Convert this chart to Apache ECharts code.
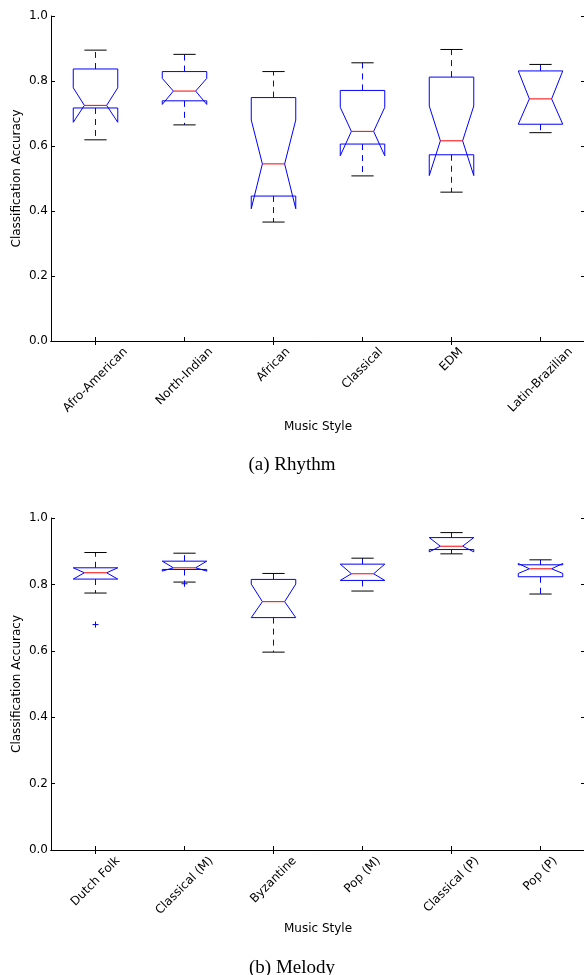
<!DOCTYPE html>
<html>
<head>
<meta charset="utf-8">
<script src="https://cdn.jsdelivr.net/npm/echarts@6/dist/echarts.min.js"></script>
<style>
html,body{margin:0;padding:0;background:#fff;}
#chart{width:584px;height:975px;}
</style>
</head>
<body>
<div id="chart"></div>
<script>
// ---- Data ----
const yTickLabels = ['0.0', '0.2', '0.4', '0.6', '0.8', '1.0'];

const rhythmCats = ['Afro-American', 'North-Indian', 'African', 'Classical', 'EDM', 'Latin-Brazilian'];
const rhythmWhiskerLow  = [0.619, 0.665, 0.366, 0.508, 0.458, 0.641];
const rhythmQ1          = [0.717, 0.739, 0.446, 0.606, 0.573, 0.667];
const rhythmMedian      = [0.725, 0.769, 0.545, 0.645, 0.616, 0.745];
const rhythmQ3          = [0.837, 0.829, 0.749, 0.771, 0.812, 0.831];
const rhythmWhiskerHigh = [0.895, 0.882, 0.829, 0.856, 0.897, 0.851];
const rhythmNotchLow    = [0.673, 0.728, 0.407, 0.570, 0.509, 0.667];
const rhythmNotchHigh   = [0.779, 0.808, 0.680, 0.719, 0.723, 0.831];
const rhythmOutliers    = [];

const melodyCats = ['Dutch Folk', 'Classical (M)', 'Byzantine', 'Pop (M)', 'Classical (P)', 'Pop (P)'];
const melodyWhiskerLow  = [0.774, 0.807, 0.596, 0.780, 0.892, 0.771];
const melodyQ1          = [0.816, 0.845, 0.700, 0.812, 0.905, 0.823];
const melodyMedian      = [0.835, 0.850, 0.748, 0.832, 0.915, 0.847];
const melodyQ3          = [0.850, 0.870, 0.815, 0.861, 0.941, 0.859];
const melodyWhiskerHigh = [0.896, 0.894, 0.833, 0.879, 0.956, 0.874];
const melodyNotchLow    = [0.816, 0.840, 0.700, 0.812, 0.898, 0.833];
const melodyNotchHigh   = [0.850, 0.870, 0.801, 0.861, 0.941, 0.863];
const melodyOutliers    = [[0, 0.679], [1, 0.802]];

// ---- Helpers ----
const FONT = 'DejaVu Sans';
const LABEL_SIZE = 12;
const LINE_H = 14;
const measureCtx = document.createElement('canvas').getContext('2d');
measureCtx.font = LABEL_SIZE + 'px "' + FONT + '"';
function textW(t) { return measureCtx.measureText(t).width; }

// rich styles so each rotated label is centred on its tick (matplotlib style)
function richFor(cats) {
  const rich = {};
  cats.forEach((c, i) => {
    const pad = 0.5 * (textW(c) + LINE_H);
    rich['l' + i] = {
      fontFamily: FONT, fontSize: LABEL_SIZE, lineHeight: LINE_H, color: '#000',
      padding: [pad, pad, 0, 0]
    };
  });
  return rich;
}

function boxData(lo, q1, med, q3, hi, nlo, nhi) {
  return lo.map((_, i) => [i, lo[i], q1[i], med[i], q3[i], hi[i], nlo[i], nhi[i]]);
}

const BLUE = '#0000ff', RED = '#ff0000', BLACK = '#000000';

function renderBox(params, api) {
  const i = api.value(0);
  const lo = api.value(1), q1 = api.value(2), med = api.value(3), q3 = api.value(4),
        hi = api.value(5), nlo = api.value(6), nhi = api.value(7);
  const bw = api.size([1, 0])[0];
  const hw = bw * 0.25, nw = hw * 0.5;
  const cx = api.coord([i, med])[0];
  const Y = v => api.coord([i, v])[1];
  const L = cx - hw, R = cx + hw;
  const dashStyle = { stroke: BLUE, lineWidth: 1, lineDash: [6, 5], fill: null };
  return {
    type: 'group',
    children: [
      { type: 'line', shape: { x1: cx, y1: Y(q3), x2: cx, y2: Y(hi) }, style: dashStyle },
      { type: 'line', shape: { x1: cx, y1: Y(q1), x2: cx, y2: Y(lo) }, style: dashStyle },
      { type: 'line', shape: { x1: cx - nw, y1: Y(hi), x2: cx + nw, y2: Y(hi) }, style: { stroke: BLACK, lineWidth: 1 } },
      { type: 'line', shape: { x1: cx - nw, y1: Y(lo), x2: cx + nw, y2: Y(lo) }, style: { stroke: BLACK, lineWidth: 1 } },
      { type: 'polyline', shape: { points: [
          [L, Y(q1)], [L, Y(nlo)], [cx - nw, Y(med)], [L, Y(nhi)], [L, Y(q3)],
          [R, Y(q3)], [R, Y(nhi)], [cx + nw, Y(med)], [R, Y(nlo)], [R, Y(q1)], [L, Y(q1)]
        ] }, style: { stroke: BLUE, lineWidth: 1, fill: null } },
      { type: 'line', shape: { x1: cx - nw, y1: Y(med), x2: cx + nw, y2: Y(med) }, style: { stroke: RED, lineWidth: 1 } }
    ]
  };
}

function renderFlier(params, api) {
  const p = api.coord([api.value(0), api.value(1)]);
  const s = 3;
  return {
    type: 'group',
    children: [
      { type: 'line', shape: { x1: p[0] - s, y1: p[1], x2: p[0] + s, y2: p[1] }, style: { stroke: BLUE, lineWidth: 1 } },
      { type: 'line', shape: { x1: p[0], y1: p[1] - s, x2: p[0], y2: p[1] + s }, style: { stroke: BLUE, lineWidth: 1 } }
    ]
  };
}

const axisLineStyle = { show: true, lineStyle: { color: BLACK, width: 1 } };
const tickIn = { show: true, inside: true, length: 4, alignWithLabel: true, lineStyle: { color: BLACK, width: 1 } };

function xAxesFor(gridIndex, cats, nameGap) {
  return [
    {
      type: 'category', gridIndex: gridIndex, data: cats, position: 'bottom',
      axisLine: axisLineStyle, axisTick: tickIn, splitLine: { show: false },
      axisLabel: {
        interval: 0, rotate: 45, align: 'center', verticalAlign: 'middle', margin: 4,
        hideOverlap: false,
        formatter: (v, i) => '{l' + i + '|' + v + '}', rich: richFor(cats)
      },
      name: 'Music Style', nameLocation: 'middle', nameGap: nameGap, nameMoveOverlap: false,
      nameTextStyle: { fontFamily: FONT, fontSize: 12, color: BLACK }
    },
    {
      type: 'category', gridIndex: gridIndex, data: cats, position: 'top',
      axisLine: axisLineStyle, axisTick: tickIn, axisLabel: { show: false }, splitLine: { show: false }
    }
  ];
}

function yAxesFor(gridIndex) {
  return [
    {
      type: 'value', gridIndex: gridIndex, min: 0, max: 1, interval: 0.2, position: 'left',
      axisLine: axisLineStyle,
      axisTick: { show: true, inside: true, length: 4, lineStyle: { color: BLACK } },
      splitLine: { show: false },
      axisLabel: { margin: 3, fontFamily: FONT, fontSize: LABEL_SIZE, color: BLACK,
        formatter: v => yTickLabels[Math.round(v / 0.2)] },
      name: 'Classification Accuracy', nameLocation: 'middle', nameGap: 28, nameMoveOverlap: false,
      nameTextStyle: { fontFamily: FONT, fontSize: 12, color: BLACK }
    },
    {
      type: 'value', gridIndex: gridIndex, min: 0, max: 1, interval: 0.2, position: 'right',
      axisLine: axisLineStyle,
      axisTick: { show: true, inside: true, length: 4, lineStyle: { color: BLACK } },
      splitLine: { show: false }, axisLabel: { show: false }
    }
  ];
}

const chart = echarts.init(document.getElementById('chart'), null, { renderer: 'canvas' });

chart.setOption({
  animation: false,
  backgroundColor: '#ffffff',
  title: [
    { text: '(a) Rhythm', left: 'center', top: 451,
      textStyle: { fontFamily: 'Liberation Serif', fontSize: 19, fontWeight: 'normal', color: BLACK } },
    { text: '(b) Melody', left: 'center', top: 954,
      textStyle: { fontFamily: 'Liberation Serif', fontSize: 19, fontWeight: 'normal', color: BLACK } }
  ],
  grid: [
    { left: 51, right: -1, top: 16, height: 325, containLabel: false, outerBoundsMode: 'none' },
    { left: 51, right: -1, top: 518, height: 332, containLabel: false, outerBoundsMode: 'none' }
  ],
  xAxis: [].concat(xAxesFor(0, rhythmCats, 80), xAxesFor(1, melodyCats, 73)),
  yAxis: [].concat(yAxesFor(0), yAxesFor(1)),
  series: [
    {
      type: 'custom', name: 'Rhythm', xAxisIndex: 0, yAxisIndex: 0,
      renderItem: renderBox,
      encode: { x: 0, y: [1, 5] },
      data: boxData(rhythmWhiskerLow, rhythmQ1, rhythmMedian, rhythmQ3, rhythmWhiskerHigh, rhythmNotchLow, rhythmNotchHigh)
    },
    {
      type: 'custom', name: 'Rhythm outliers', xAxisIndex: 0, yAxisIndex: 0,
      renderItem: renderFlier, encode: { x: 0, y: 1 }, data: rhythmOutliers
    },
    {
      type: 'custom', name: 'Melody', xAxisIndex: 2, yAxisIndex: 2,
      renderItem: renderBox,
      encode: { x: 0, y: [1, 5] },
      data: boxData(melodyWhiskerLow, melodyQ1, melodyMedian, melodyQ3, melodyWhiskerHigh, melodyNotchLow, melodyNotchHigh)
    },
    {
      type: 'custom', name: 'Melody outliers', xAxisIndex: 2, yAxisIndex: 2,
      renderItem: renderFlier, encode: { x: 0, y: 1 }, data: melodyOutliers
    }
  ]
});
</script>
</body>
</html>
